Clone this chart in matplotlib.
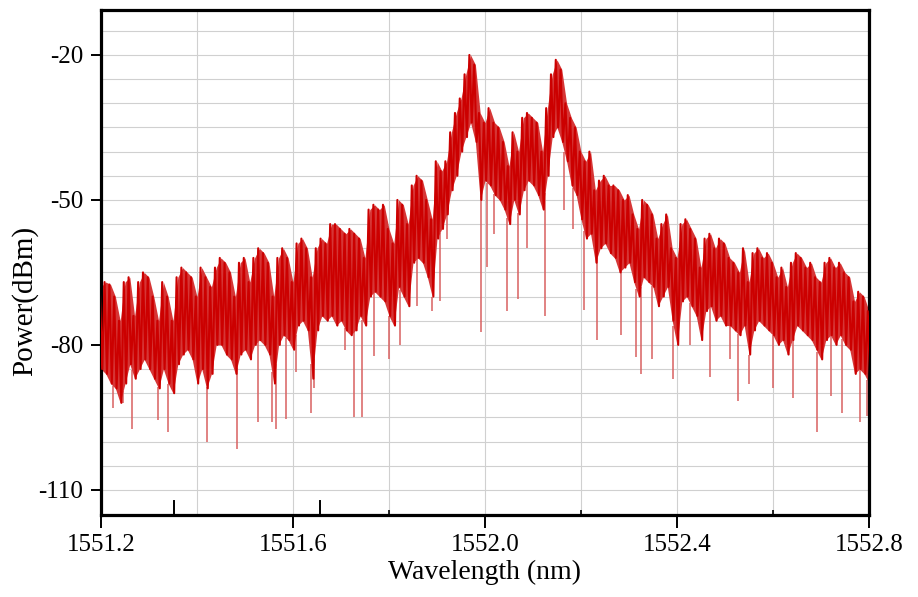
import numpy as np
import matplotlib.pyplot as plt

# spectrum: band top / bottom every 0.01 nm
wavelength = np.linspace(1551.2, 1552.8, 161)

power_hi = [
    -68, -67, -67.5, -70, -75, -67, -66, -74, -67, -65,
    -66, -70, -75, -67, -70, -75, -66, -64, -65, -66,
    -70, -64, -66, -68, -64, -62, -63, -65, -70, -63,
    -62, -67, -62, -60, -61, -63, -70, -62, -60, -62,
    -67, -59, -58, -60, -66, -60, -58, -59, -55, -55,
    -56, -57, -56, -57, -58, -62, -52, -51, -52, -51,
    -56, -59, -50, -51, -55, -47, -45, -46, -50, -54,
    -42, -44, -42, -36, -32, -29, -24, -20, -22, -32,
    -34, -31, -34, -35, -38, -43, -36, -40, -33, -32,
    -33, -34, -40, -31, -24, -21, -23, -30, -33, -35,
    -40, -42, -40, -48, -46, -45, -47, -47, -48, -50,
    -49, -53, -56, -50, -51, -53, -58, -55, -53, -60,
    -62, -55, -54, -56, -58, -64, -58, -57, -60, -58,
    -59, -62, -63, -65, -60, -67, -61, -60, -62, -61,
    -63, -66, -64, -68, -63, -61, -62, -64, -63, -66,
    -67, -63, -62, -64, -63, -65, -66, -71, -69, -70,
    -73,
]

power_lo = [
    -85, -86, -88, -89, -92, -88, -84, -87, -85, -83,
    -85, -87, -89, -85, -88, -90, -84, -82, -81, -83,
    -88, -85, -89, -86, -80, -80, -82, -83, -86, -82,
    -81, -83, -80, -79, -80, -82, -88, -80, -78, -79,
    -81, -76, -75, -77, -87, -77, -74, -75, -74, -76,
    -75, -77, -78, -77, -74, -76, -70, -69, -70, -71,
    -74, -76, -68, -70, -72, -63, -62, -63, -66, -70,
    -58, -56, -53, -48, -45, -40, -37, -34, -38, -50,
    -46, -47, -49, -50, -52, -55, -50, -53, -48, -46,
    -47, -49, -52, -45, -37, -35, -38, -42, -47, -49,
    -54, -58, -57, -63, -60, -59, -61, -62, -65, -64,
    -63, -67, -70, -66, -67, -68, -72, -70, -68, -75,
    -80, -71, -70, -72, -74, -79, -73, -72, -75, -74,
    -76, -76, -77, -78, -76, -82, -77, -75, -76, -77,
    -78, -80, -79, -82, -79, -76, -77, -78, -79, -81,
    -83, -79, -78, -80, -78, -80, -81, -86, -85, -86,
    -88,
]

# deep single-sample drops
dip_wl = [1551.225, 1551.246, 1551.264, 1551.319, 1551.340, 1551.421, 1551.483,
          1551.527, 1551.556, 1551.565, 1551.585, 1551.606, 1551.637, 1551.644,
          1551.708, 1551.728, 1551.744, 1551.769, 1551.800, 1551.823, 1551.858,
          1551.890, 1551.906, 1551.921, 1551.992, 1552.004, 1552.019, 1552.046,
          1552.069, 1552.088, 1552.125, 1552.165, 1552.183, 1552.206, 1552.233,
          1552.283, 1552.315, 1552.325, 1552.348, 1552.392, 1552.427, 1552.469,
          1552.510, 1552.527, 1552.550, 1552.600, 1552.642, 1552.692, 1552.721,
          1552.744, 1552.781, 1552.796]
dip_db = [-93, -92, -97.5, -95.5, -98, -100, -101.5,
          -96, -96, -97.5, -95.4, -85.6, -94, -89,
          -81, -95, -95, -82.4, -83, -80, -72,
          -73, -71, -58, -77.4, -63.8, -57, -73,
          -70.6, -60, -74, -52, -56, -72.7, -79,
          -78, -82.6, -86, -83, -87, -80, -86.7,
          -83, -91.7, -88, -89, -91, -98, -90.6,
          -94, -96, -94.8]

x_major = [1551.2, 1551.6, 1552.0, 1552.4, 1552.8]
x_minor = [1551.8, 1552.2, 1552.6]
y_major = [-20, -50, -80, -110]

plt.rcParams['font.family'] = ['Liberation Serif', 'DejaVu Serif']

fig = plt.figure(figsize=(9.18, 5.97), dpi=100)
ax = fig.add_axes([0.110, 0.1374, 0.8366, 0.8458])

red = '#cc0000'

# noise band: light fill plus a zigzag between top and bottom for texture
zx = np.column_stack([wavelength - 0.0025, wavelength + 0.0025]).ravel()
zy = np.column_stack([power_hi, power_lo]).ravel()
ax.vlines(dip_wl, dip_db, np.interp(dip_wl, wavelength, power_lo),
          color='#d96060', lw=1.1, zorder=2)
ax.fill_between(wavelength, power_hi, power_lo, color='#d63636', lw=0,
                zorder=2)
ax.plot(zx, zy, color=red, lw=1.5, zorder=3)

ax.set_xlim(1551.2, 1552.8)
ax.set_ylim(-115.2, -10.7)

# grid
for gx in np.arange(1551.4, 1552.7, 0.2):
    ax.axvline(gx, color='#d0d0d0', lw=0.8, zorder=0)
for gy in range(-115, -10, 5):
    ax.axhline(gy, color='#d0d0d0', lw=0.8, zorder=0)

ax.set_xticks(x_major)
ax.set_xticklabels(['%.1f' % v for v in x_major])
ax.set_xticks(x_minor, minor=True)
ax.set_yticks(y_major)
ax.set_yticklabels(['%d' % v for v in y_major])
ax.tick_params(axis='x', which='major', direction='out', length=9, width=1.4,
               labelsize=18, pad=4.5)
ax.tick_params(axis='x', which='minor', direction='in', length=3.6, width=1.2)
ax.tick_params(axis='y', which='major', direction='out', length=7.2, width=1.4,
               labelsize=18, pad=5.5)

# two stray marks on the bottom axis
for sx in [1551.352, 1551.656]:
    ax.plot([sx, sx], [0, 0.027], color='black', lw=1.4,
            transform=ax.get_xaxis_transform(), clip_on=False, zorder=5)

for s in ax.spines.values():
    s.set_linewidth(2.3)

ax.set_xlabel('Wavelength (nm)', fontsize=20, labelpad=3)
fig.text(25 / 918, 1 - 301 / 597, 'Power(dBm)', rotation=90, fontsize=21,
         ha='center', va='center')

fig.savefig('out.png', dpi=100)
